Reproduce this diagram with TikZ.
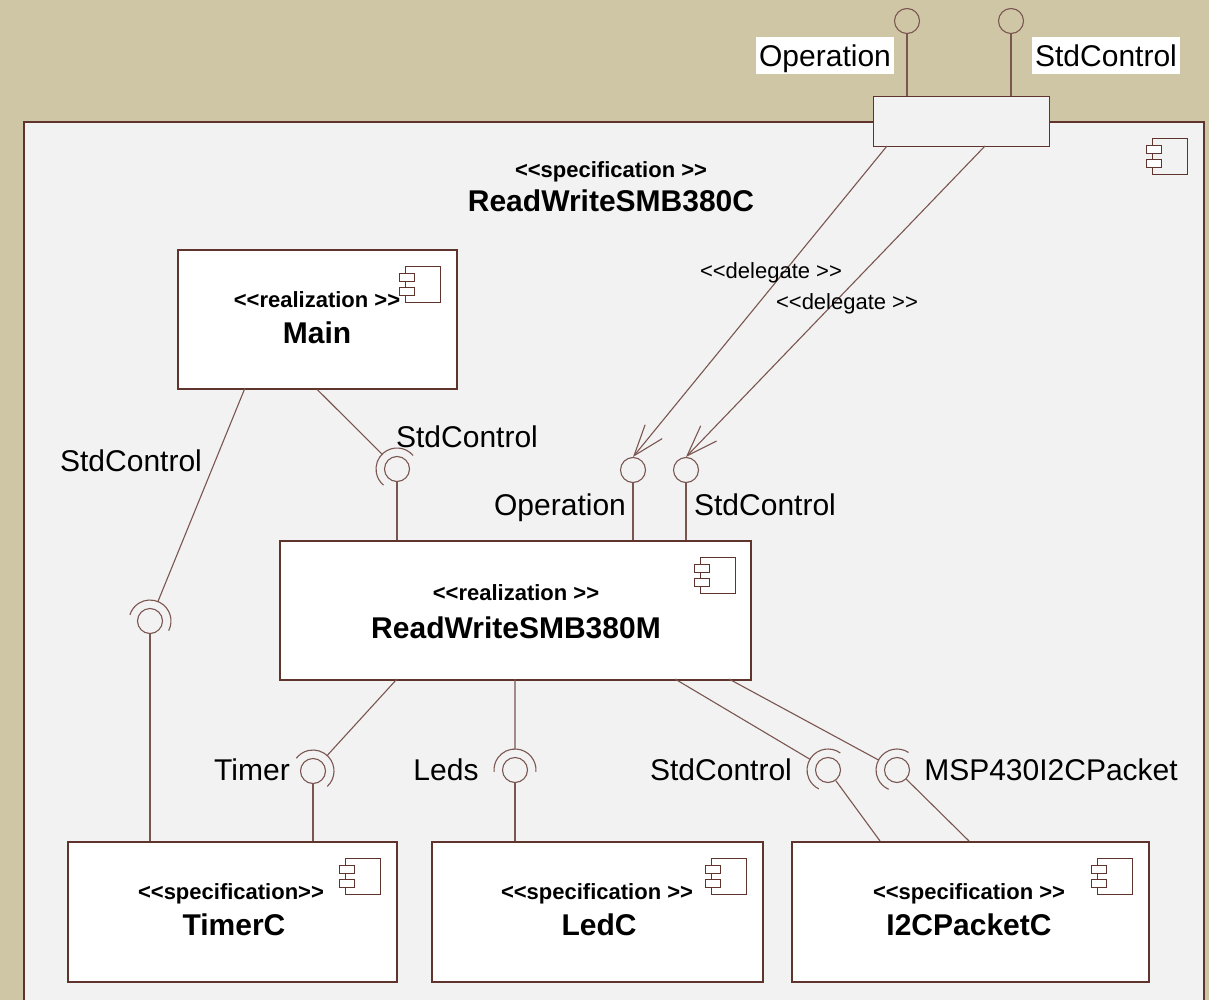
\documentclass[tikz,border=0pt]{standalone}
\usepackage{fontspec}
\setmainfont{Liberation Sans}
\usetikzlibrary{calc,arrows.meta}

\definecolor{paper}{HTML}{CFC6A6}
\definecolor{panel}{HTML}{F2F2F2}
\definecolor{edge}{HTML}{5E342C}
\definecolor{wire}{HTML}{7A5650}

% socket (required interface): half circle around a ball, opening toward the requirer,
% plus the wire from the requirer to the socket
\newcommand\umlsocket[2]{%
  \draw[conn] let \p1=($(#2)-(#1.center)$), \n1={atan2(\y1,\x1)} in
    (#2) -- ($(#1.center)!21pt!(#2)$)
    ($(#1.center)+(\n1-95:21pt)$) arc[start angle=\n1-95, end angle=\n1+95, radius=21pt];
}

\begin{document}
\begin{tikzpicture}[x=1pt,y=1pt,
  box/.style={draw=edge, line width=1.6pt, fill=white, anchor=north west, inner sep=0pt},
  conn/.style={draw=wire, line width=1.1pt},
  ball/.style={circle, draw=wire, line width=1.1pt, minimum size=25pt, inner sep=0pt},
  txt/.style={inner sep=0pt, text depth=0pt, text=black},
  lbl/.style={txt, text height=21.5pt, font=\fontsize{30}{36}\selectfont},
  stereo/.style={txt, text height=15.8pt, font=\bfseries\fontsize{22}{26}\selectfont},
  cname/.style={txt, text height=21.5pt, font=\bfseries\fontsize{30}{36}\selectfont},
  dlg/.style={txt, text height=15.8pt, font=\fontsize{22}{26}\selectfont},
  tagbox/.style={lbl, fill=white, inner xsep=3pt, minimum height=37pt},
  iconline/.style={draw=edge, line width=0.9pt},
  compicon/.pic={
    \draw[iconline] (-35,0) rectangle (0,-36);
    \draw[iconline, fill=white] (-41,-7) rectangle (-26,-15);
    \draw[iconline, fill=white] (-41,-21) rectangle (-26,-29);
  },
  delegate/.style={conn, -{Straight Barb[length=31pt,width=22pt]}}
]
\fill[paper] (0,0) rectangle (1209,-1000);
\useasboundingbox (0,0) rectangle (1209,-1000);
\clip (0,0) rectangle (1209,-1000);

% enclosing component
\node[box, fill=panel, minimum width=1180pt, minimum height=884pt] (outer) at (23,-121) {};
\pic at ([shift={(-17pt,-17pt)}]outer.north east) {compicon};
\node[stereo] (outerSt) at (611,-170) {<\kern0pt<specification >\kern0pt>};
\node[cname] (outerNm) at (611,-201) {ReadWriteSMB380C};

% port on the boundary with its provided interfaces
\node[draw=edge, line width=1.2pt, fill=panel, anchor=north west, inner sep=0pt,
      minimum width=176pt, minimum height=50pt] (port) at (873,-96) {};
\node[ball] (opTop) at (907,-21) {};
\node[ball] (scTop) at (1011,-21) {};
\draw[conn] (opTop.south) -- (opTop.south |- port.north);
\draw[conn] (scTop.south) -- (scTop.south |- port.north);
\node[tagbox] (opTopLbl) at (825,-56) {Operation};
\node[tagbox] (scTopLbl) at (1106,-56) {StdControl};

% inner components
\node[box, minimum width=279pt, minimum height=139pt] (main) at (177,-249) {};
\pic at ([shift={(-17pt,-17pt)}]main.north east) {compicon};
\node[stereo] (mainSt) at (317,-300) {<\kern0pt<realization >\kern0pt>};
\node[cname] (mainNm) at (317,-333) {Main};

\node[box, minimum width=471pt, minimum height=139pt] (rw) at (279,-540) {};
\pic at ([shift={(-16pt,-17pt)}]rw.north east) {compicon};
\node[stereo] (rwSt) at (516,-593) {<\kern0pt<realization >\kern0pt>};
\node[cname] (rwNm) at (516,-628) {ReadWriteSMB380M};

\node[box, minimum width=329pt, minimum height=140pt] (timer) at (67,-841) {};
\pic at ([shift={(-17pt,-17pt)}]timer.north east) {compicon};
\node[stereo] (timerSt) at (231,-892) {<\kern0pt<specification>\kern0pt>};
\node[cname] (timerNm) at (234,-925) {TimerC};

\node[box, minimum width=331pt, minimum height=140pt] (led) at (431,-841) {};
\pic at ([shift={(-17pt,-17pt)}]led.north east) {compicon};
\node[stereo] (ledSt) at (597,-892) {<\kern0pt<specification >\kern0pt>};
\node[cname] (ledNm) at (599,-925) {LedC};

\node[box, minimum width=357pt, minimum height=140pt] (i2c) at (791,-841) {};
\pic at ([shift={(-17pt,-17pt)}]i2c.north east) {compicon};
\node[stereo] (i2cSt) at (969,-892) {<\kern0pt<specification >\kern0pt>};
\node[cname] (i2cNm) at (969,-925) {I2CPacketC};

% delegation from the boundary port to ReadWriteSMB380M
\node[ball] (opIn) at (633,-470) {};
\node[ball] (scIn) at (686,-470) {};
\coordinate (dgA) at (887,-146);
\coordinate (dgB) at (985,-146);
\draw[delegate] (dgA) -- (opIn.north);
\draw[delegate] (dgB) -- (scIn.north);
\draw[conn] (opIn.south) -- (opIn.south |- rw.north);
\draw[conn] (scIn.south) -- (scIn.south |- rw.north);
\node[dlg] (dgLblA) at (771,-271) {<\kern0pt<delegate >\kern0pt>};
\node[dlg] (dgLblB) at (847,-302) {<\kern0pt<delegate >\kern0pt>};
\node[lbl] (opInLbl) at (560,-505) {Operation};
\node[lbl] (scInLbl) at (765,-505) {StdControl};

% Main requires StdControl of ReadWriteSMB380M
\node[ball] (mainSock) at (397,-469) {};
\draw[conn] (mainSock.south) -- (mainSock.south |- rw.north);
\umlsocket{mainSock}{main.south}
\node[lbl] (mainSockLbl) at (467,-437) {StdControl};

% Main requires StdControl of TimerC
\coordinate (mainL) at (245,-388);
\node[ball] (tmSock) at (150,-621) {};
\draw[conn] (tmSock.south) -- (tmSock.south |- timer.north);
\umlsocket{tmSock}{mainL}
\node[lbl] (tmSockLbl) at (131,-461) {StdControl};

% ReadWriteSMB380M requires Timer, Leds, StdControl, MSP430I2CPacket
\coordinate (rwT) at (397,-679);
\node[ball] (timerSock) at (313,-771) {};
\draw[conn] (timerSock.south) -- (timerSock.south |- timer.north);
\umlsocket{timerSock}{rwT}
\node[lbl] (timerLbl) at (252,-770) {Timer};

\coordinate (rwL) at (515,-679);
\node[ball] (ledSock) at (515,-770) {};
\draw[conn] (ledSock.south) -- (ledSock.south |- led.north);
\umlsocket{ledSock}{rwL}
\node[lbl] (ledLbl) at (446,-770) {Leds};

\coordinate (rwS) at (675,-679);
\coordinate (i2cA) at (880,-841);
\node[ball] (scSock) at (828,-770) {};
\draw[conn] (scSock) -- (i2cA);
\umlsocket{scSock}{rwS}
\node[lbl] (scLbl) at (721,-770) {StdControl};

\coordinate (rwM) at (729,-679);
\coordinate (i2cB) at (969,-841);
\node[ball] (mspSock) at (897,-770) {};
\draw[conn] (mspSock) -- (i2cB);
\umlsocket{mspSock}{rwM}
\node[lbl] (mspLbl) at (1051,-770) {MSP430I2CPacket};
\end{tikzpicture}
\end{document}
